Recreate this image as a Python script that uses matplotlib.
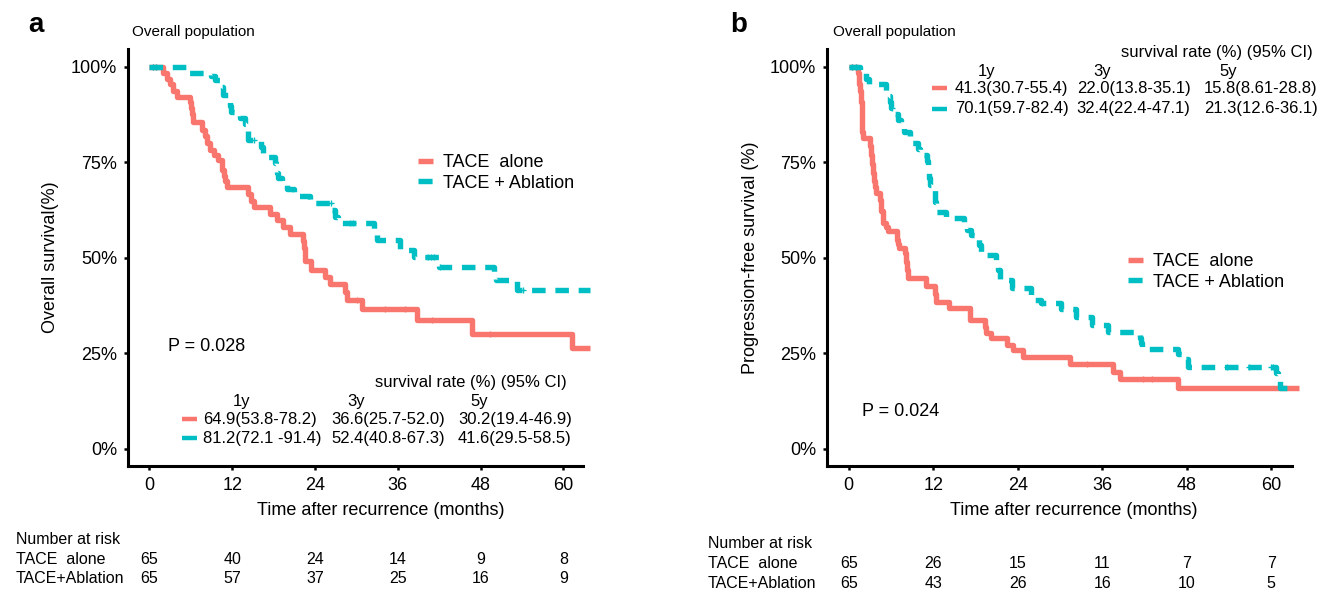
import matplotlib
matplotlib.use('Agg')
import matplotlib.pyplot as plt
import numpy as np
from matplotlib.lines import Line2D
from matplotlib.transforms import blended_transform_factory

plt.rcParams['font.family'] = ['Liberation Sans', 'DejaVu Sans']

RED = '#F8766D'
TEAL = '#00BFC4'

# ---- data ----
month_ticks = [0, 12, 24, 36, 48, 60]
pct_ticks = [0, 0.25, 0.5, 0.75, 1.0]
pct_labels = ['0%', '25%', '50%', '75%', '100%']
groups = ['TACE  alone', 'TACE + Ablation']
risk_labels = ['TACE  alone', 'TACE+Ablation']

# panel a: overall survival
os_alone_t = [0, 2.0, 2.5, 3.0, 3.5, 4.0, 5.9, 6.0, 6.2, 6.4, 7.6, 8.0, 8.4, 8.8, 9.4, 10.0, 10.5, 10.8, 11.0, 11.2,
              14.35, 14.8, 15.1, 17.5, 18.5, 19.4, 20.4, 22.2, 22.4, 22.5, 22.6, 23.5, 25.5, 26.2, 28.3, 28.6, 30.8,
              38.75, 46.7, 61.2, 63.9]
os_alone_s = [1.0, 0.985, 0.969, 0.954, 0.938, 0.921, 0.908, 0.892, 0.877, 0.856, 0.834, 0.818, 0.800, 0.782, 0.768,
              0.755, 0.729, 0.715, 0.700, 0.686, 0.666, 0.650, 0.633, 0.616, 0.598, 0.581, 0.563, 0.545, 0.527, 0.510,
              0.493, 0.467, 0.450, 0.432, 0.410, 0.389, 0.367, 0.336, 0.301, 0.264, 0.264]
os_alone_cens = [0.5, 1.0, 30.1, 34.2, 37.1, 40.9, 49.4]

os_abl_t = [0, 5.4, 9.0, 9.5, 10.2, 10.7, 11.45, 11.7, 11.9, 13.1, 13.9, 14.1, 14.35, 16.2, 16.5, 18.2, 18.3, 18.5,
            18.6, 19.2, 19.9, 20.9, 23.3, 26.5, 26.9, 27.4, 32.5, 33.0, 36.3, 38.4, 42.0, 49.9, 50.3, 53.3, 63.9]
os_abl_s = [1.0, 0.984, 0.975, 0.965, 0.948, 0.926, 0.913, 0.897, 0.882, 0.867, 0.850, 0.834, 0.808, 0.790, 0.763,
            0.748, 0.734, 0.721, 0.708, 0.694, 0.681, 0.662, 0.644, 0.624, 0.607, 0.590, 0.568, 0.547, 0.521, 0.502,
            0.476, 0.459, 0.443, 0.415, 0.415]
os_abl_cens = [0.5, 1.0, 15.2, 26.4, 29.1, 29.5, 40.4, 40.8, 41.2, 42.1, 54.2]

os_risk_alone = [65, 40, 24, 14, 9, 8]
os_risk_abl = [65, 57, 37, 25, 16, 9]
os_rates_alone = ['64.9(53.8-78.2)', '36.6(25.7-52.0)', '30.2(19.4-46.9)']
os_rates_abl = ['81.2(72.1 -91.4)', '52.4(40.8-67.3)', '41.6(29.5-58.5)']

# panel b: progression-free survival
pfs_alone_t = [0, 1.3, 1.4, 1.5, 1.6, 1.7, 1.76, 1.82, 1.88, 1.94, 2.0, 2.95, 3.1, 3.25, 3.4, 3.55, 3.7, 3.9, 4.37,
               4.6, 4.84, 5.3, 5.55, 6.8, 7.0, 7.2, 7.92, 8.1, 8.25, 8.4, 11.0, 12.3, 12.43, 14.3, 17.17, 19.4, 19.54,
               20.25, 22.4, 23.3, 24.75, 31.4, 37.56, 38.5, 46.8, 64.0]
pfs_alone_s = [1.0, 0.985, 0.969, 0.954, 0.938, 0.923, 0.908, 0.877, 0.846, 0.830, 0.814, 0.792, 0.769, 0.746, 0.723,
               0.700, 0.685, 0.669, 0.652, 0.622, 0.591, 0.580, 0.569, 0.547, 0.536, 0.525, 0.512, 0.490, 0.468, 0.446,
               0.425, 0.405, 0.385, 0.368, 0.337, 0.320, 0.302, 0.289, 0.271, 0.258, 0.240, 0.223, 0.201, 0.184, 0.160,
               0.160]
pfs_alone_cens = [0.5, 1.0, 33.9, 41.8, 43.0]

pfs_abl_t = [0, 1.6, 2.5, 2.9, 5.3, 5.6, 5.8, 6.0, 6.5, 7.0, 7.45, 7.9, 8.7, 8.8, 9.9, 10.1, 11.1, 11.2, 11.3, 11.4,
             11.6, 12.0, 12.2, 12.3, 12.43, 13.8, 16.4, 16.8, 17.3, 17.9, 18.5, 18.8, 20.96, 21.2, 21.43, 23.2, 25.9,
             26.5, 27.3, 30.2, 32.2, 34.5, 36.8, 41.4, 41.5, 41.6, 46.8, 47.5, 48.2, 60.6, 61.0, 61.3, 62.9]
pfs_abl_s = [1.0, 0.985, 0.969, 0.954, 0.938, 0.923, 0.908, 0.892, 0.877, 0.862, 0.846, 0.830, 0.815, 0.800, 0.785,
             0.769, 0.754, 0.738, 0.723, 0.708, 0.692, 0.677, 0.662, 0.646, 0.621, 0.604, 0.588, 0.572, 0.560, 0.551,
             0.534, 0.507, 0.490, 0.468, 0.442, 0.420, 0.402, 0.389, 0.382, 0.367, 0.345, 0.324, 0.306, 0.290, 0.276,
             0.262, 0.249, 0.236, 0.214, 0.199, 0.184, 0.160, 0.160]
pfs_abl_cens = [0.5, 1.0, 6.1, 27.4, 53.7, 56.8, 60.0, 60.2]

pfs_risk_alone = [65, 26, 15, 11, 7, 7]
pfs_risk_abl = [65, 43, 26, 16, 10, 5]
pfs_rates_alone = ['41.3(30.7-55.4)', '22.0(13.8-35.1)', '15.8(8.61-28.8)']
pfs_rates_abl = ['70.1(59.7-82.4)', '32.4(22.4-47.1)', '21.3(12.6-36.1)']

# ---- figure ----
W, H = 1326, 592
fig = plt.figure(figsize=(W / 100, H / 100), dpi=100)


def fx(x):
    return x / W


def fy(y):
    return 1 - y / H


ax_a = fig.add_axes([fx(128.3), fy(466), (583.3 - 128.3) / W, (466 - 49.3) / H])
ax_b = fig.add_axes([fx(827.3), fy(466), (1291.7 - 827.3) / W, (466 - 49.3) / H])

LW = 3.9
DASH = (2.5, 1.8)


def km(ax, t, s, cens, color, dashed):
    kw = dict(color=color, lw=LW, where='post', clip_on=False, solid_capstyle='butt')
    if dashed:
        ax.step(t, s, linestyle=(0, DASH), dash_capstyle='butt', **kw)
    else:
        ax.step(t, s, **kw)
    t = np.array(t)
    s = np.array(s)
    cy = s[np.searchsorted(t, cens, side='right') - 1]
    ax.plot(cens, cy, '+', color=color, ms=5, mew=1.0, clip_on=False)


def style(ax, ylabel, xlabel_x, ylabel_x):
    ax.set_xlim(-3.05, 62.9)
    ax.set_ylim(-0.045, 1.046)
    for sp in ['top', 'right']:
        ax.spines[sp].set_visible(False)
    for sp in ['left', 'bottom']:
        ax.spines[sp].set_linewidth(2.2)
    ax.set_xticks(month_ticks)
    ax.set_yticks(pct_ticks)
    ax.set_yticklabels(pct_labels)
    ax.tick_params(length=3, width=1.8, labelsize=13, pad=5)
    ax.set_xlabel('Time after recurrence (months)', fontsize=13)
    ax.set_ylabel(ylabel, fontsize=13)
    ax.xaxis.set_label_coords(xlabel_x, -0.086)
    ax.yaxis.set_label_coords(ylabel_x, 0.5)


def legend(ax, x, y):
    handles = [Line2D([], [], color=RED, lw=LW, solid_capstyle='butt'),
               Line2D([], [], color=TEAL, lw=LW, linestyle=(0, (2.6, 0.6)), dash_capstyle='butt')]
    ax.legend(handles, groups, loc='upper left', bbox_to_anchor=(x, y), frameon=False, fontsize=13,
              handlelength=0.85, handletextpad=0.55, labelspacing=0.2, borderpad=0, borderaxespad=0)


def rate_table(title_right, title_y, year_x, year_y, key_x, rows_y, col_x, rates_alone, rates_abl):
    fig.text(fx(title_right), fy(title_y), 'survival rate (%) (95% CI)', ha='right', va='center', fontsize=12)
    for xx, lab in zip(year_x, ['1y', '3y', '5y']):
        fig.text(fx(xx), fy(year_y), lab, ha='center', va='center', fontsize=12)
    for yy, col, rates in zip(rows_y, [RED, TEAL], [rates_alone, rates_abl]):
        fig.add_artist(Line2D([fx(key_x), fx(key_x + 15)], [fy(yy), fy(yy)], color=col, lw=3.2,
                              solid_capstyle='butt', transform=fig.transFigure))
        for xx, r in zip(col_x, rates):
            fig.text(fx(xx), fy(yy), r, ha='left', va='center', fontsize=12)


def risk_table(ax, label_x, rows_y, alone, abl):
    trans = blended_transform_factory(ax.transData, fig.transFigure)
    fig.text(fx(label_x), fy(rows_y[0]), 'Number at risk', ha='left', va='center', fontsize=11.5)
    for yy, lab, nums in zip(rows_y[1:], risk_labels, [alone, abl]):
        fig.text(fx(label_x), fy(yy), lab, ha='left', va='center', fontsize=11.5)
        for m, n in zip(month_ticks, nums):
            ax.text(m, fy(yy), str(n), transform=trans, ha='center', va='center', fontsize=11.5)


# panel a
km(ax_a, os_alone_t, os_alone_s, os_alone_cens, RED, False)
km(ax_a, os_abl_t, os_abl_s, os_abl_cens, TEAL, True)
style(ax_a, 'Overall survival(%)', 0.555, -0.152)
legend(ax_a, 0.637, 0.749)
ax_a.text(fx(168), fy(346.7), 'P = 0.028', transform=fig.transFigure, ha='left', va='center', fontsize=13)
rate_table(566.7, 383, [241.7, 356, 479], 401.7, 181.7, [419.3, 438.3], [203, 331.7, 458],
           os_rates_alone, os_rates_abl)
risk_table(ax_a, 15.8, [540, 559, 578.3], os_risk_alone, os_risk_abl)
fig.text(fx(131.7), fy(31.7), 'Overall population', ha='left', va='center', fontsize=11)
fig.text(fx(28), fy(32), 'a', ha='left', va='baseline', fontsize=20, fontweight='bold')

# panel b
km(ax_b, pfs_alone_t, pfs_alone_s, pfs_alone_cens, RED, False)
km(ax_b, pfs_abl_t, pfs_abl_s, pfs_abl_cens, TEAL, True)
style(ax_b, 'Progression-free survival (%)', 0.531, -0.147)
legend(ax_b, 0.6475, 0.511)
ax_b.text(fx(861.7), fy(411.7), 'P = 0.024', transform=fig.transFigure, ha='left', va='center', fontsize=13)
rate_table(1313, 53, [987, 1101.7, 1228], 71.3, 932, [88, 108.7], [955, 1076.7, 1204],
           pfs_rates_alone, pfs_rates_abl)
risk_table(ax_b, 708, [544, 564, 583.3], pfs_risk_alone, pfs_risk_abl)
fig.text(fx(833), fy(31.7), 'Overall population', ha='left', va='center', fontsize=11)
fig.text(fx(730), fy(32), 'b', ha='left', va='baseline', fontsize=20, fontweight='bold')

fig.savefig('out.png', dpi=100)
